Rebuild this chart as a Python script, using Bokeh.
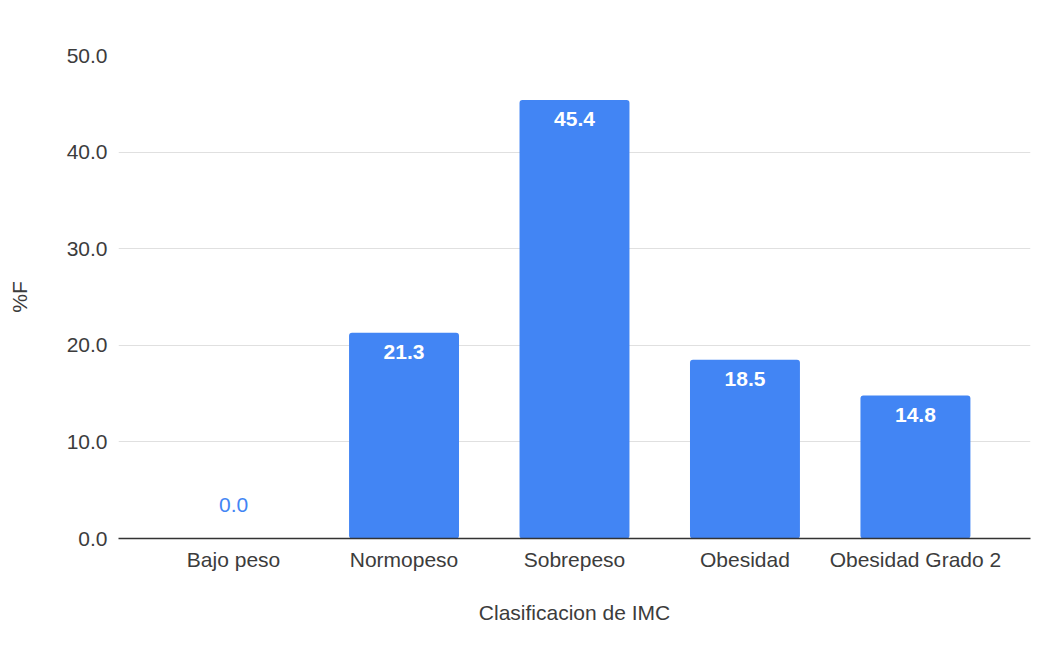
from bokeh.plotting import figure
from bokeh.models import ColumnDataSource, Range1d, FixedTicker, LabelSet
from bokeh.core.properties import value
from bokeh.embed import file_html
from bokeh.resources import INLINE

categories = ["Bajo peso", "Normopeso", "Sobrepeso", "Obesidad", "Obesidad Grado 2"]
values = [0.0, 21.3, 45.4, 18.5, 14.8]
y_ticks = [0, 10, 20, 30, 40, 50]

xs = list(range(len(categories)))
labels = [f"{v:.1f}" for v in values]

src_bars = ColumnDataSource(dict(x=xs, top=values, label=labels))
src_in = ColumnDataSource(dict(x=[x for x, v in zip(xs, values) if v > 0],
                               y=[v for v in values if v > 0],
                               label=[l for l, v in zip(labels, values) if v > 0]))
src_zero = ColumnDataSource(dict(x=[x for x, v in zip(xs, values) if v == 0],
                                 y=[v for v in values if v == 0],
                                 label=[l for l, v in zip(labels, values) if v == 0]))

FONT = "Liberation Sans"
BLUE = "#4285F4"
TXT = "#3c3c3c"

p = figure(width=1036, height=640, output_backend="svg", toolbar_location=None,
           x_range=Range1d(-0.675, len(categories) - 1 + 0.675),
           y_range=Range1d(0, 50),
           min_border_left=118, min_border_right=6, min_border_top=55, min_border_bottom=102)
p.outline_line_color = None

p.vbar(x="x", top="top", width=0.645, source=src_bars, color=BLUE, line_color=None,
       border_radius=3)

p.add_layout(LabelSet(x="x", y="y", text="label", source=src_in, text_color="white",
                      text_font=value(FONT), text_font_size="21px", text_font_style="bold",
                      text_align="center", text_baseline="top", y_offset=-12))
p.add_layout(LabelSet(x="x", y="y", text="label", source=src_zero, text_color=BLUE,
                      text_font=value(FONT), text_font_size="21px",
                      text_align="center", text_baseline="bottom", y_offset=27))

p.xaxis.ticker = FixedTicker(ticks=xs)
p.xaxis.major_label_overrides = {i: c for i, c in enumerate(categories)}
p.yaxis.ticker = FixedTicker(ticks=y_ticks)
p.yaxis.major_label_overrides = {t: f"{t:.1f}" for t in y_ticks}

for ax in (p.xaxis, p.yaxis):
    ax.major_tick_line_color = None
    ax.minor_tick_line_color = None
    ax.major_label_text_font = FONT
    ax.major_label_text_font_size = "21px"
    ax.major_label_text_color = TXT
    ax.axis_label_text_font = FONT
    ax.axis_label_text_font_size = "21px"
    ax.axis_label_text_font_style = "normal"
    ax.axis_label_text_color = TXT

p.xaxis.axis_line_color = "#333333"
p.xaxis.axis_line_width = 1.5
p.yaxis.axis_line_color = None
p.xaxis.major_label_standoff = 3
p.yaxis.major_label_standoff = 5
p.xaxis.axis_label = "Clasificacion de IMC"
p.xaxis.axis_label_standoff = 27
p.yaxis.axis_label = "%F"
p.yaxis.axis_label_standoff = 33

p.xgrid.grid_line_color = None
p.ygrid.grid_line_color = "#e0e0e0"
p.ygrid.grid_line_width = 1

open("out.html", "w").write(file_html(p, INLINE))
